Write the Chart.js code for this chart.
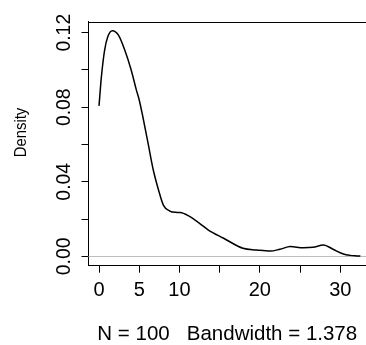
<!DOCTYPE html>
<html>
<head>
<meta charset="utf-8">
<script src="https://cdn.jsdelivr.net/npm/chart.js@4/dist/chart.umd.min.js"></script>
<style>
  html, body { margin: 0; padding: 0; background: #fff; }
  #wrap { width: 366px; height: 345px; }
</style>
</head>
<body>
<div id="wrap"><canvas id="c" width="366" height="345"></canvas></div>
<script>
// ── Data ────────────────────────────────────────────────────
const densX = [0, 0.3, 0.7, 1.1, 1.66, 2.4, 3.2, 4.0, 4.65, 5.0, 5.45, 6.1, 6.75, 7.4, 8.0, 8.8,
               9.5, 10.1, 11.1, 12.5, 13.6, 15.5, 17.9, 19.6, 21.3, 22.5, 23.8, 25.4, 26.6, 27.9,
               29.1, 30.4, 31.2, 32.0, 32.5];
const densY = [0.0807, 0.0964, 0.1107, 0.1179, 0.1211, 0.1188, 0.1107, 0.1000, 0.0892, 0.0839,
               0.0749, 0.0607, 0.0463, 0.0356, 0.0275, 0.0243, 0.0236, 0.0235, 0.0218, 0.0177,
               0.0141, 0.0097, 0.0043, 0.0034, 0.0028, 0.0038, 0.0052, 0.0046, 0.0048, 0.0061,
               0.0038, 0.0012, 0.0005, 0.0002, 0.0001];
const xTicks = [0, 5, 10, 15, 20, 25, 30];
const xTickLabels = ['0', '5', '10', '', '20', '', '30'];
const yTicks = [0, 0.02, 0.04, 0.06, 0.08, 0.10, 0.12];
const yTickLabels = ['0.00', '', '0.04', '', '0.08', '', '0.12'];
const xTitle = 'N = 100   Bandwidth = 1.378';
const yTitle = 'Density';

const FONT = "'Liberation Sans', Arial, Helvetica, sans-serif";

// ── R-style frame: top border, zero line, rotated y labels ──
const rFrame = {
    id: 'rFrame',
    beforeDatasetsDraw(chart) {
        const { ctx, chartArea: a, scales: { y } } = chart;
        const y0 = Math.round(y.getPixelForValue(0)) + 0.5;
        ctx.save();
        ctx.strokeStyle = '#bebebe';
        ctx.lineWidth = 1;
        ctx.beginPath();
        ctx.moveTo(a.left, y0);
        ctx.lineTo(a.right, y0);
        ctx.stroke();
        ctx.restore();
    },
    afterDraw(chart) {
        const { ctx, chartArea: a, scales: { y } } = chart;
        ctx.save();
        ctx.strokeStyle = '#000';
        ctx.lineWidth = 1;
        ctx.beginPath();
        ctx.moveTo(a.left, Math.round(a.top) + 0.5);
        ctx.lineTo(a.right, Math.round(a.top) + 0.5);
        ctx.stroke();

        ctx.fillStyle = '#000';
        ctx.textAlign = 'center';
        ctx.textBaseline = 'middle';
        ctx.font = `20px ${FONT}`;
        yTicks.forEach((v, i) => {
            if (!yTickLabels[i]) return;
            ctx.save();
            ctx.translate(64, y.getPixelForValue(v));
            ctx.rotate(-Math.PI / 2);
            ctx.scale(0.97, 1);
            ctx.fillText(yTickLabels[i], 0, 0);
            ctx.restore();
        });

        ctx.font = `16.5px ${FONT}`;
        ctx.save();
        ctx.translate(21, 132.5);
        ctx.rotate(-Math.PI / 2);
        ctx.scale(0.9, 1);
        ctx.fillText(yTitle, 0, 0);
        ctx.restore();
        ctx.restore();
    }
};

new Chart(document.getElementById('c'), {
    type: 'line',
    data: {
        datasets: [{
            data: densX.map((x, i) => ({ x, y: densY[i] })),
            borderColor: '#000',
            borderWidth: 1.5,
            pointRadius: 0,
            fill: false,
            cubicInterpolationMode: 'monotone',
        }],
    },
    options: {
        responsive: false,
        animation: false,
        layout: { padding: { top: 21.7, right: 0, bottom: 0, left: 0 } },
        plugins: { legend: { display: false }, tooltip: { enabled: false } },
        scales: {
            x: {
                type: 'linear',
                min: -1.306,
                max: 33.2,
                afterBuildTicks: (s) => { s.ticks = xTicks.map(v => ({ value: v })); },
                afterFit: (s) => { s.height = 79.3; },
                grid: { drawOnChartArea: false, drawTicks: true, tickLength: 7, color: '#000', lineWidth: 1 },
                border: { display: true, color: '#000', width: 1 },
                ticks: {
                    padding: 6,
                    color: '#000',
                    maxRotation: 0,
                    autoSkip: false,
                    font: { family: FONT, size: 20 },
                    callback: (v) => xTickLabels[xTicks.indexOf(v)] ?? '',
                },
                title: {
                    display: true,
                    text: xTitle,
                    color: '#000',
                    font: { family: FONT, size: 20.5, lineHeight: 1 },
                    padding: { top: 0, bottom: 0 },
                },
            },
            y: {
                min: -0.00504,
                max: 0.1259,
                afterBuildTicks: (s) => { s.ticks = yTicks.map(v => ({ value: v })); },
                afterFit: (s) => { s.width = 88.5; },
                grid: { drawOnChartArea: false, drawTicks: true, tickLength: 7, color: '#000', lineWidth: 1 },
                border: { display: true, color: '#000', width: 1 },
                ticks: { display: false },
            },
        },
    },
    plugins: [rFrame],
});
</script>
</body>
</html>
